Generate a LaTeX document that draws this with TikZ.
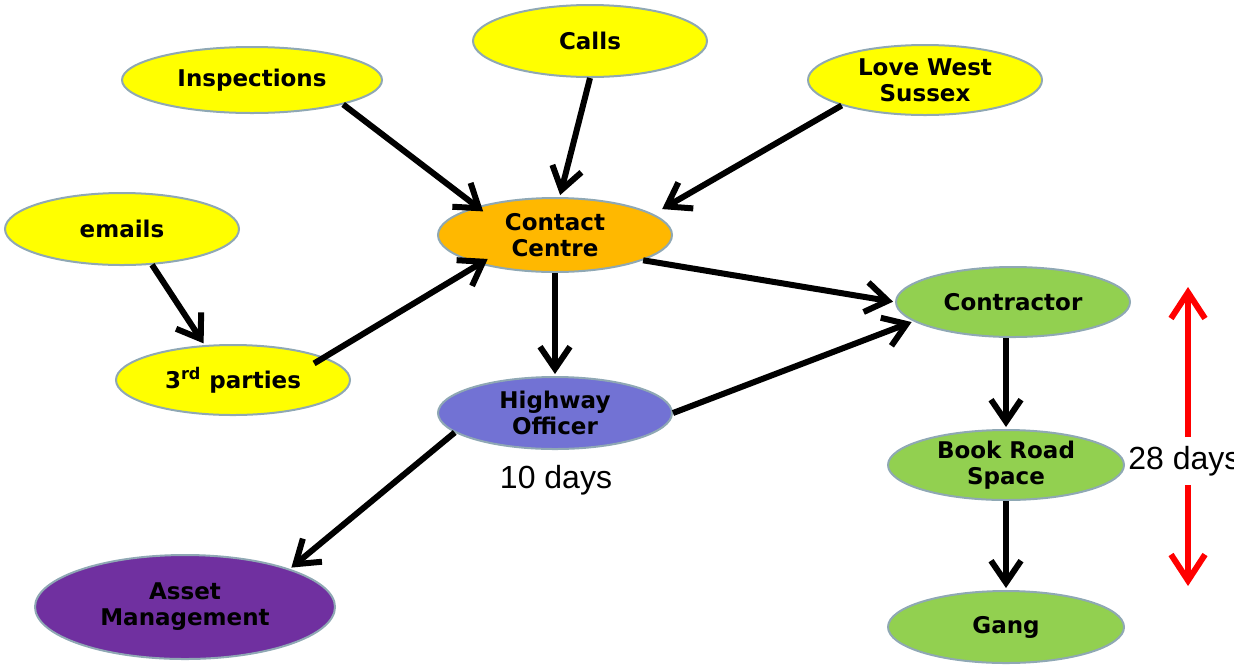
\documentclass[tikz,border=0pt]{standalone}
\usepackage{fontspec}
\setmainfont{DejaVu Sans}
\newfontfamily\daysfont{Liberation Sans}
\usetikzlibrary{shapes.geometric,arrows.meta}

\definecolor{rim}{HTML}{8FA8B4}
\definecolor{lemon}{HTML}{FFFF00}
\definecolor{amber}{HTML}{FFB800}
\definecolor{leaf}{HTML}{92D050}
\definecolor{lilac}{HTML}{7272D4}
\definecolor{plum}{HTML}{7030A0}

\tikzset{
  bubble/.style={ellipse, draw=rim, line width=1pt, inner sep=0pt,
    minimum width=117pt, minimum height=36pt, align=center,
    font=\fontsize{11.5}{13}\selectfont\bfseries},
  flow/.style={-{Straight Barb[length=11pt,width=15pt]}, line width=3pt, shorten >=1pt},
  span/.style={-{Straight Barb[length=13pt,width=17pt]}, line width=3pt, red}
}

\begin{document}
\begin{tikzpicture}[x=0.5pt,y=-0.5pt]
  \useasboundingbox (0,0) rectangle (1234,665);

  % sources
  \node[bubble, fill=lemon, minimum width=130pt, minimum height=33pt] (insp) at (252,80) {Inspections};
  \node[bubble, fill=lemon] (calls) at (590,41) {Calls};
  \node[bubble, fill=lemon, minimum height=35pt] (love) at (925,80) {Love West\\Sussex};
  \node[bubble, fill=lemon] (emails) at (122,229) {emails};
  \node[bubble, fill=lemon, minimum height=35pt] (third) at (233,380) {3\textsuperscript{rd} parties};

  % centre and officer
  \node[bubble, fill=amber, minimum height=37pt] (cc) at (555,235) {Contact\\Centre};
  \node[bubble, fill=lilac] (ho) at (555,413) {Highway\\Officer};
  \node[bubble, fill=plum, minimum width=150pt, minimum height=52pt] (asset) at (185,607) {Asset\\Management};

  % contractor chain
  \node[bubble, fill=leaf, minimum height=35pt] (con) at (1013,302) {Contractor};
  \node[bubble, fill=leaf, minimum width=118pt, minimum height=35pt] (book) at (1006,465) {Book Road\\Space};
  \node[bubble, fill=leaf, minimum width=118pt] (gang) at (1006,627) {Gang};

  % labels
  \node[font=\daysfont\fontsize{16}{18}\selectfont] (ten) at (556,480) {10 days};
  \node[anchor=west, inner sep=0pt, font=\daysfont\fontsize{16}{18}\selectfont] (twenty) at (1128,461) {28 days};

  \path (insp.-15) edge[flow, shorten >=-4pt] (cc.160);
  \path (calls.south) edge[flow] (cc.83);
  \path (love.197) edge[flow, shorten >=5pt] (cc.12);
  \path (emails.-50) edge[flow] (third.129);
  \path (third.14) edge[flow, shorten <=-6pt, shorten >=-5pt] (cc.201);
  \path (cc.-16) edge[flow] (con.west);
  \path (cc.south) edge[flow] (ho.north);
  \path (ho.east) edge[flow] (con.191);
  \path (ho.191) edge[flow] (asset.20);
  \path (con.south -| book.north) edge[flow] (book.north);
  \path (book.south) edge[flow] (gang.north);

  % 28 days span
  \coordinate (rtop) at (1188,287);
  \coordinate (rup) at (1188,437);
  \coordinate (rdown) at (1188,485);
  \coordinate (rbot) at (1188,586);
  \draw[span] (rup) -- (rtop);
  \draw[span] (rdown) -- (rbot);
\end{tikzpicture}
\end{document}
